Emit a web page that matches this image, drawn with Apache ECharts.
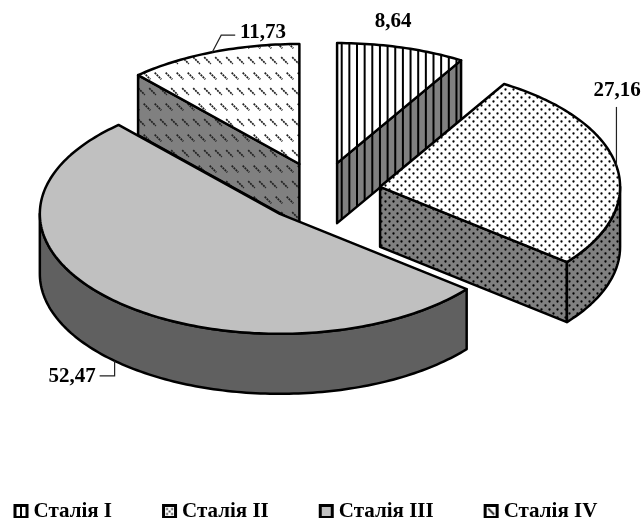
<!DOCTYPE html>
<html>
<head>
<meta charset="utf-8">
<style>html,body{margin:0;padding:0;background:#fff}#chart{width:641px;height:518px}</style>
<script src="https://cdn.jsdelivr.net/npm/echarts@6/dist/echarts.min.js"></script>
</head>
<body>
<div id="chart"></div>
<script>
// Disease stage shares, percent
const stageNames = ['Сталія I', 'Сталія II', 'Сталія III', 'Сталія IV'];
const stageValues = [8.64, 27.16, 52.47, 11.73];
const stageLabels = ['8,64', '27,16', '52,47', '11,73'];

// Pie geometry: an ellipse seen at an angle, with an extruded rim
const pie = { cx: 321, cy: 192, rx: 240, ry: 120, depth: 60, explode: 60 };

const FONT = '"Liberation Serif","Times New Roman",serif';
const EDGE = 2.5;

function patternCanvas(w, h, paper, paint) {
  const c = document.createElement('canvas');
  c.width = w; c.height = h;
  const g = c.getContext('2d');
  g.fillStyle = paper; g.fillRect(0, 0, w, h);
  g.fillStyle = '#000'; g.strokeStyle = '#000';
  paint(g);
  return { image: c, repeat: 'repeat' };
}
// Vertical hatching, 20 stripes per tile
const paintStripes = g => { for (let i = 0; i < 20; i++) g.fillRect(i * 7.65 + 4.1, 0, 2, 4); };
const paintDots = g => {
  [[1.5, 1.5], [5.5, 5.5]].forEach(([x, y]) => { g.beginPath(); g.arc(x, y, 1.15, 0, Math.PI * 2); g.fill(); });
};
// Staggered short diagonal dashes
const paintDashes = g => {
  g.lineWidth = 1.7; g.strokeStyle = '#222'; g.setLineDash([2, 0.8]);
  const seg = (x, y) => { g.beginPath(); g.moveTo(x - 3.3, y - 3.3); g.lineTo(x + 3.3, y + 3.3); g.stroke(); };
  [[4, 14], [15, 14], [9.5, 29.5], [20.5, 29.5]].forEach(([x, y]) => {
    [0, -22].forEach(dx => [0, -31].forEach(dy => seg(x + dx, y + dy)));
  });
};
const faces = [
  { top: patternCanvas(153, 4, '#fff', paintStripes), wall: patternCanvas(153, 4, '#808080', paintStripes) },
  { top: patternCanvas(8, 8, '#fff', paintDots), wall: patternCanvas(8, 8, '#808080', paintDots) },
  { top: '#c0c0c0', wall: '#606060' },
  { top: patternCanvas(22, 31, '#fff', paintDashes), wall: patternCanvas(22, 31, '#808080', paintDashes) }
];

// Legend swatches carry one motif each, centred in a tile the size of the key
const KEY = 12;
const keyFills = [
  patternCanvas(KEY, KEY, '#fff', g => g.fillRect(5, 0, 2, KEY)),
  patternCanvas(KEY, KEY, '#fff', g => {
    [[3.5, 3.5], [8.5, 3.5], [6, 6], [3.5, 8.5], [8.5, 8.5]].forEach(([x, y]) => { g.beginPath(); g.arc(x, y, 0.9, 0, Math.PI * 2); g.fill(); });
  }),
  '#c0c0c0',
  patternCanvas(KEY, KEY, '#fff', g => {
    g.lineWidth = 1.8; g.strokeStyle = '#222';
    g.beginPath(); g.moveTo(3, 3); g.lineTo(9, 9); g.stroke();
  })
];

// Callouts: label centre, leader anchor angle on the rim, elbow points relative to the anchor
const leaders = [
  { text: [393, 22], path: null },
  { text: [617, 91], angle: 80, path: [[0, -59]], fromDepth: 0 },
  { text: [72, 377], angle: 223.5, path: [[0, 15], [-15, 15]], fromDepth: 1 },
  { text: [263, 33], angle: 338.7, path: [[9, -17], [23, -17]], fromDepth: 0 }
];

const total = stageValues.reduce((a, b) => a + b, 0);
const toRad = v => v / total * Math.PI * 2;
let running = 0;
const spans = stageValues.map(v => { const s = running; running += v; return [toRad(s), toRad(running)]; });

function rim(o, a, dz) {
  return [o[0] + pie.rx * Math.sin(a), o[1] - pie.ry * Math.cos(a) + dz];
}
function arcPoints(o, a, b, dz) {
  const pts = [], n = Math.max(2, Math.ceil(Math.abs(b - a) / 0.02));
  for (let i = 0; i <= n; i++) pts.push(rim(o, a + (b - a) * i / n, dz));
  return pts;
}
function poly(points, fill) {
  return { type: 'polygon', shape: { points }, style: { fill, stroke: '#000', lineWidth: EDGE, lineJoin: 'round' } };
}

function renderStage(i) {
  const [a, b] = spans[i], mid = (a + b) / 2, d = pie.depth;
  const o = [pie.cx + pie.explode * Math.sin(mid), pie.cy - pie.explode * 0.5 * Math.cos(mid)];
  const oLow = [o[0], o[1] + d];
  const kids = [];
  // Radial walls, only where they face the viewer
  if (Math.sin(a) < -1e-6) kids.push(poly([o, rim(o, a, 0), rim(o, a, d), oLow], faces[i].wall));
  if (Math.sin(b) > 1e-6) kids.push(poly([o, rim(o, b, 0), rim(o, b, d), oLow], faces[i].wall));
  // Outer rim, front half only
  const f0 = Math.max(a, Math.PI / 2), f1 = Math.min(b, Math.PI * 1.5);
  if (f1 > f0) kids.push(poly(arcPoints(o, f0, f1, 0).concat(arcPoints(o, f1, f0, d)), faces[i].wall));
  // Top face
  kids.push(poly([o].concat(arcPoints(o, a, b, 0)), faces[i].top));
  // Callout
  const l = leaders[i];
  if (l.path) {
    const start = rim(o, l.angle * Math.PI / 180, l.fromDepth * d);
    const line = [start].concat(l.path.map(p => [start[0] + p[0], start[1] + p[1]]));
    kids.push({ type: 'polyline', shape: { points: line }, style: { fill: null, stroke: '#222', lineWidth: 1.2 } });
  }
  kids.push({
    type: 'text',
    style: { x: l.text[0], y: l.text[1], text: stageLabels[i], font: 'bold 21px ' + FONT, fill: '#000', align: 'center', verticalAlign: 'middle' }
  });
  return { type: 'group', children: kids };
}

// Front slices paint over the back ones
const stacking = [2, 3, 4, 1];
const series = stageNames.map((name, i) => ({
  type: 'custom',
  name,
  coordinateSystem: 'none',
  z: stacking[i],
  silent: true,
  animation: false,
  itemStyle: { color: faces[i].top, borderColor: '#000', borderWidth: EDGE },
  data: [stageValues[i]],
  renderItem: () => renderStage(i)
}));

const chart = echarts.init(document.getElementById('chart'), null, { renderer: 'canvas' });
chart.setOption({
  animation: false,
  backgroundColor: '#fff',
  legend: {
    left: 13.5,
    top: 501,
    icon: 'rect',
    itemWidth: KEY,
    itemHeight: KEY,
    itemGap: 50,
    padding: 0,
    data: stageNames.map((name, i) => ({
      name,
      itemStyle: { color: keyFills[i], borderColor: '#000', borderWidth: 3 }
    })),
    selectedMode: false,
    textStyle: { fontFamily: FONT, fontWeight: 'bold', fontSize: 21, color: '#000', padding: [0, 0, 0, 1.5] }
  },
  series
});
</script>
</body>
</html>
